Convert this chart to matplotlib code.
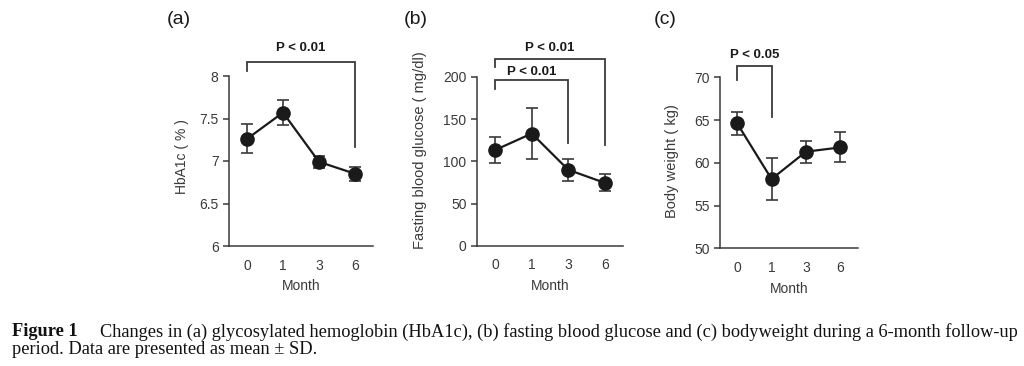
import matplotlib
matplotlib.use("Agg")
import matplotlib.pyplot as plt
import numpy as np

months = ["0", "1", "3", "6"]

hba1c_mean = [7.26, 7.57, 6.99, 6.85]
hba1c_sd = [0.17, 0.15, 0.07, 0.08]

fbg_mean = [113.5, 133.0, 90.0, 74.5]
fbg_sd = [15.5, 30.5, 13.0, 10.0]

bw_mean = [64.6, 58.1, 61.3, 61.8]
bw_sd = [1.3, 2.45, 1.3, 1.75]

W, H = 1024, 366
fig = plt.figure(figsize=(W / 100, H / 100), dpi=100)

SANS = "Liberation Sans"
SERIF = "Liberation Serif"
dark = "#1a1a1a"
grey = "#3a3a3a"


def px_axes(x0, x1, ytop, ybot):
    return fig.add_axes([x0 / W, 1 - ybot / H, (x1 - x0) / W, (ybot - ytop) / H])


def style(ax, ylim, yticks, yticklabels, ylabel, ylabel_xy, ylabel_fs):
    x = np.arange(len(months))
    ax.set_xlim(-0.5, 3.5)
    ax.set_ylim(*ylim)
    ax.set_yticks(yticks)
    ax.set_yticklabels(yticklabels, fontsize=10, family=SANS, color=grey)
    ax.set_xticks(x)
    ax.set_xticklabels(months, fontsize=10, family=SANS, color=grey)
    ax.tick_params(axis="x", length=0, pad=9)
    ax.tick_params(axis="y", length=4.5, width=1.1, color=grey, direction="out", pad=3)
    for s in ["top", "right"]:
        ax.spines[s].set_visible(False)
    for s in ["left", "bottom"]:
        ax.spines[s].set_linewidth(1.1)
        ax.spines[s].set_color(grey)
    ax.set_xlabel("Month", fontsize=10, family=SANS, color=grey, labelpad=5)
    ax.set_ylabel(ylabel, fontsize=ylabel_fs, family=SANS, color=grey)
    ax.yaxis.set_label_coords(*ylabel_xy, transform=fig.transFigure)
    ax.patch.set_alpha(0)


def plot_series(ax, mean, sd):
    x = np.arange(len(months))
    ax.errorbar(x, mean, yerr=sd, fmt="o-", color=dark, ecolor=grey, elinewidth=1.2,
                capsize=4.5, capthick=1.2, markersize=9.5, linewidth=1.6, clip_on=False, zorder=3)


def bracket(ax, x0, x1, ytop, yl, yr, label, ytext):
    ax.plot([x0, x0, x1, x1], [yl, ytop, ytop, yr], color=grey, lw=1.3, clip_on=False,
            solid_joinstyle="miter")
    ax.text((x0 + x1) / 2, ytext, label, ha="center", va="center", fontsize=9.5,
            fontweight="bold", family=SANS, color=dark, clip_on=False)


# (a)
axa = px_axes(229, 373, 76, 246)
style(axa, (6, 8), [6, 6.5, 7, 7.5, 8], ["6", "6.5", "7", "7.5", "8"], "HbA1c ( % )",
      (189 / W, 1 - 157 / H), 10)
plot_series(axa, hba1c_mean, hba1c_sd)
bracket(axa, 0, 3, 8.165, 8.06, 7.16, "P < 0.01", 8.33)

# (b)
axb = px_axes(477, 623, 77, 245.7)
style(axb, (0, 200), [0, 50, 100, 150, 200], ["0", "50", "100", "150", "200"],
      "Fasting blood glucose ( mg/dl)", (427 / W, 1 - 150 / H), 10.5)
plot_series(axb, fbg_mean, fbg_sd)
bracket(axb, 0, 3, 221, 211.5, 119.5, "P < 0.01", 234.5)
bracket(axb, 0, 2, 196.4, 185.4, 122, "P < 0.01", 206.5)

# (c)
axc = px_axes(720, 857.5, 77.3, 248.3)
style(axc, (50, 70), [50, 55, 60, 65, 70], ["50", "55", "60", "65", "70"],
      "Body weight ( kg)", (679 / W, 1 - 161 / H), 10.5)
plot_series(axc, bw_mean, bw_sd)
bracket(axc, 0, 1, 71.3, 69.7, 65.3, "P < 0.05", 72.65)

# panel labels
for lab, xc in [("(a)", 179), ("(b)", 416), ("(c)", 665)]:
    fig.text(xc / W, 1 - 20 / H, lab, ha="center", va="center", fontsize=14, family=SANS,
             color=dark)

# caption
cap_fs = 13.2
fig.text(12 / W, 1 - 332 / H, "Figure 1", ha="left", va="center", fontsize=cap_fs,
         family=SERIF, fontweight="bold", color="#111111")
fig.text(100 / W, 1 - 332 / H,
         "Changes in (a) glycosylated hemoglobin (HbA1c), (b) fasting blood glucose and (c) "
         "bodyweight during a 6-month follow-up",
         ha="left", va="center", fontsize=cap_fs, family=SERIF, color="#111111")
fig.text(12 / W, 1 - 349.5 / H, "period. Data are presented as mean \u00b1 SD.", ha="left",
         va="center", fontsize=cap_fs, family=SERIF, color="#111111")

fig.savefig("out.png", dpi=100)
